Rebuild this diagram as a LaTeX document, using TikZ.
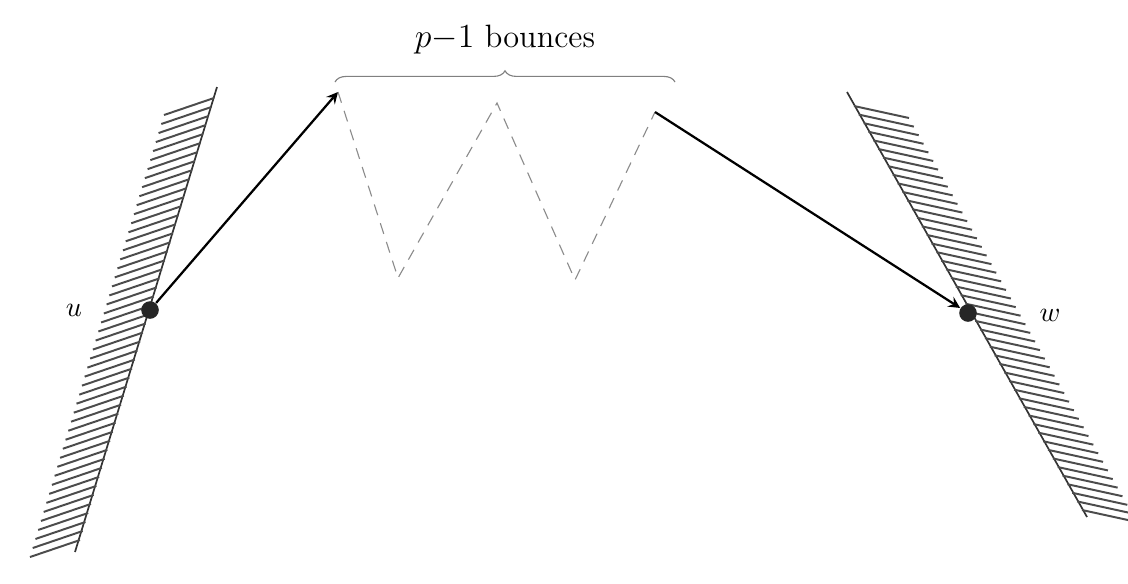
\documentclass[tikz,border=0pt]{standalone}
\usetikzlibrary{calc,decorations.pathreplacing}

\tikzstyle{arrow} = [thick,->,>=stealth]
\tikzstyle{dot} = [circle,fill=black!85,inner sep=0pt,minimum size=0.22cm]
\tikzstyle{bounce} = [black!45,dash pattern=on 4pt off 3pt]
\tikzstyle{hatch} = [black!70,line width=0.7pt]
\tikzstyle{wall} = [black!80,line width=0.6pt]

\begin{document}
\begin{tikzpicture}[x=0.0125cm,y=-0.0125cm]
\useasboundingbox (0,0) rectangle (1128,583);

% left wall
\draw [wall] (217,87) -- (75,552);
\foreach \t in {0,...,49} {
  \draw [hatch] ($(214,98)!\t/49!(80,540)$) -- ++(-50,17);
}

% right wall
\draw [wall] (847,92) -- (1087,517);
\foreach \t in {0,...,47} {
  \draw [hatch] ($(854,106)!\t/47!(1082,510)$) -- ++(55,12);
}

\node (u) [dot] at (150,310) {};
\node (w) [dot] at (968,313) {};
\node (ulabel) at (74,310) {$u$};
\node (wlabel) at (1050,315) {$w$};

\coordinate (b0) at (338,92);
\coordinate (b1) at (398,278);
\coordinate (b2) at (497,103);
\coordinate (b3) at (575,280);
\coordinate (b4) at (655,112);

\draw [arrow] (u) -- (b0);
\draw [bounce] (b0) -- (b1) -- (b2) -- (b3) -- (b4);
\draw [arrow] (b4) -- (w);

\draw [gray,decorate,decoration={brace,amplitude=0.14cm}] (335,82) -- (675,82)
  node (bounces) [midway,above=0.22cm,black,font=\fontsize{11.5}{14}\selectfont] {$p{-}1$ bounces};

\end{tikzpicture}
\end{document}
